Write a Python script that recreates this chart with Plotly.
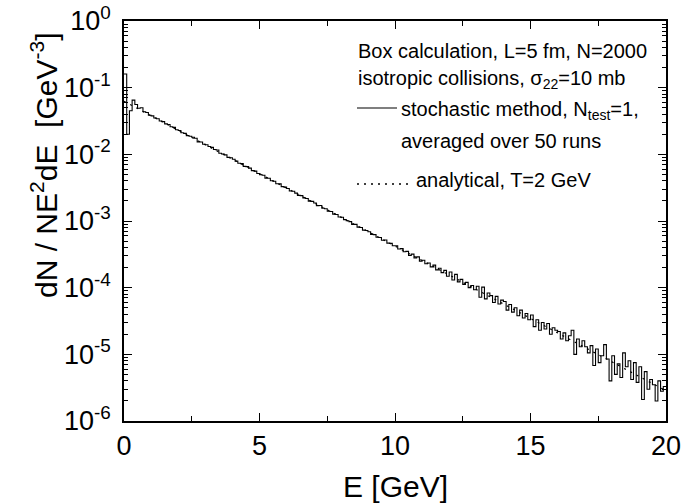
import numpy as np
import plotly.graph_objects as go

# Energy binning of the stochastic histogram (GeV)
bin_width = 0.1
e_min, e_max = 0.0, 20.0

# dN/(N E^2 dE) per 0.1 GeV bin, stochastic method (N_test=1, 50 runs)
stochastic = [
    0.160, 0.0200, 0.0450, 0.0650, 0.0560, 0.0490, 0.0500, 0.0435, 0.0425, 0.0385,
    0.0378, 0.0350, 0.0342, 0.0316, 0.0310, 0.0286, 0.0280, 0.0259, 0.0254, 0.0234,
    0.0228, 0.0211, 0.0206, 0.0191, 0.0187, 0.0180, 0.0174, 0.0154, 0.0153, 0.0142,
    0.0139, 0.0131, 0.0127, 0.0118, 0.0116, 0.0104, 0.0101, 0.0098, 0.0090, 0.0089,
    0.00845, 0.00790, 0.00735, 0.00725, 0.00660, 0.00655, 0.00620, 0.00570, 0.00560, 0.00515,
    0.00495, 0.00485, 0.00440, 0.00438, 0.00402, 0.00395, 0.00362, 0.00360, 0.00328, 0.00322,
    0.00308, 0.00282, 0.00280, 0.00262, 0.00242, 0.00240, 0.00222, 0.00218, 0.00199, 0.00197,
    0.00186, 0.00170, 0.00171, 0.00155, 0.00153, 0.00140, 0.00139, 0.00127, 0.00125, 0.00115,
    0.00114, 0.00105, 0.00101, 0.00098, 0.00089, 0.00089, 0.00081, 0.00080, 0.00073, 0.00072,
    0.000690, 0.000630, 0.000625, 0.000570, 0.000565, 0.000515, 0.000520, 0.000465, 0.000462, 0.000425,
    0.000425, 0.000380, 0.000385, 0.000345, 0.000350, 0.000305, 0.000318, 0.000280, 0.000290, 0.000250,
    0.000258, 0.000228, 0.000235, 0.000205, 0.000218, 0.000185, 0.000196, 0.000168, 0.000182, 0.000148,
    0.000172, 0.000130, 0.000158, 0.000122, 0.000133, 0.000112, 0.000120, 0.000100, 0.000108, 0.000093,
    1.05e-4, 7.2e-5, 1.02e-4, 6.8e-5, 8.3e-5, 7.6e-5, 6.0e-5, 7.4e-5, 5.7e-5, 6.5e-5,
    6.2e-5, 4.6e-5, 5.6e-5, 4.3e-5, 5.0e-5, 3.8e-5, 4.6e-5, 3.5e-5, 4.1e-5, 3.3e-5,
    3.9e-5, 2.6e-5, 3.3e-5, 2.3e-5, 3.0e-5, 2.4e-5, 2.9e-5, 2.0e-5, 2.5e-5, 2.3e-5,
    2.2e-5, 1.7e-5, 2.1e-5, 1.6e-5, 1.9e-5, 2.3e-5, 1.0e-5, 1.7e-5, 1.3e-5, 1.6e-5,
    1.3e-5, 1.05e-5, 1.35e-5, 6.8e-6, 1.2e-5, 7.5e-6, 9.5e-6, 1.4e-5, 8.5e-6, 4.0e-6,
    9.5e-6, 5.0e-6, 7.2e-6, 4.5e-6, 1.05e-5, 6.5e-6, 8.0e-6, 4.2e-6, 7.5e-6, 3.8e-6,
    6.5e-6, 2.1e-6, 5.5e-6, 3.0e-6, 4.2e-6, 3.5e-6, 2.0e-6, 4.0e-6, 2.8e-6, 3.3e-6,
]

# Analytical thermal spectrum, T = 2 GeV (straight line on the log scale)
analytic_E = [0.0, 20.0]
analytic_y = [0.0625, 2.84e-6]

# Axis ticks
x_major = [0, 5, 10, 15, 20]
x_minor = [2.5, 7.5, 12.5, 17.5]
y_decades = [-6, -5, -4, -3, -2, -1, 0]

FONT = "Liberation Sans, Arial, Helvetica, sans-serif"
DOTS = "2px,5px"

edges = np.round(np.arange(len(stochastic) + 1) * bin_width + e_min, 6)
step_y = list(stochastic) + [stochastic[-1]]

fig = go.Figure()
fig.add_trace(go.Scatter(
    x=analytic_E, y=analytic_y, mode="lines",
    line=dict(color="black", width=1.2, dash=DOTS),
    showlegend=False, hoverinfo="skip",
))
fig.add_trace(go.Scatter(
    x=edges, y=step_y, mode="lines", line_shape="hv",
    line=dict(color="black", width=1.1),
    showlegend=False,
))

# Plot area geometry in pixels
W, H = 682, 504
L, R, T, B = 124, 16, 21, 83
PW, PH = W - L - R, H - T - B


def px(x, y):
    """Convert page pixels to paper coordinates."""
    return (x - L) / PW, (H - B - y) / PH


axis_common = dict(
    showline=True, linecolor="black", linewidth=1.5, mirror="allticks",
    ticks="inside", ticklen=8, tickwidth=1.2, tickcolor="black",
    showgrid=False, zeroline=False, automargin=False,
    tickfont=dict(family=FONT, size=27, color="black"),
)

fig.update_xaxes(
    range=[e_min, e_max], tickmode="array", tickvals=x_major,
    ticktext=[str(v) for v in x_major],
    minor=dict(tickmode="array", tickvals=x_minor, ticks="inside",
               ticklen=5, tickwidth=1.2, tickcolor="black", showgrid=False),
    **axis_common,
)

y_minor = [m * 10.0 ** d for d in y_decades[:-1] for m in range(2, 10)]
fig.update_yaxes(
    type="log", range=[-6, 0], tickmode="array",
    tickvals=[10.0 ** d for d in y_decades],
    ticktext=[f"10<sup>{d}</sup>" for d in y_decades],
    ticklabelstandoff=6,
    minor=dict(tickmode="array", tickvals=y_minor, ticks="inside",
               ticklen=4, tickwidth=1, tickcolor="black", showgrid=False),
    **axis_common,
)

annotations = []
# Axis titles
xt, yt = px(395, 486)
annotations.append(dict(text="E [GeV]", x=xt, y=yt, xref="paper", yref="paper",
                        showarrow=False, xanchor="center", yanchor="middle",
                        font=dict(family=FONT, size=30, color="black")))
xt, yt = px(44, 166)
annotations.append(dict(text="dN / NE<sup>2</sup>dE \u00a0[GeV<sup>-3</sup>]",
                        x=xt, y=yt, xref="paper", yref="paper", textangle=-90,
                        showarrow=False, xanchor="center", yanchor="middle",
                        font=dict(family=FONT, size=30, color="black")))

# Legend block
legend_lines = [
    (356, 51, "Box calculation, L=5 fm, N=2000"),
    (356, 79, "isotropic collisions, \u03c3<sub>22</sub>=10 mb"),
    (399, 110, "stochastic method, N<sub>test</sub>=1,"),
    (399, 141, "averaged over 50 runs"),
    (414, 180, "analytical, T=2 GeV"),
]
for x0, y0, txt in legend_lines:
    xa, ya = px(x0, y0)
    annotations.append(dict(text=txt, x=xa, y=ya, xref="paper", yref="paper",
                            showarrow=False, xanchor="left", yanchor="middle",
                            font=dict(family=FONT, size=20, color="black")))

shapes = []
xa0, ya0 = px(357, 108)
xa1, _ = px(397, 108)
shapes.append(dict(type="line", xref="paper", yref="paper", x0=xa0, x1=xa1,
                   y0=ya0, y1=ya0, line=dict(color="black", width=1.1)))
xb0, yb0 = px(357, 184)
xb1, _ = px(410, 184)
shapes.append(dict(type="line", xref="paper", yref="paper", x0=xb0, x1=xb1,
                   y0=yb0, y1=yb0, line=dict(color="black", width=1.4, dash=DOTS)))

fig.update_layout(
    width=W, height=H,
    margin=dict(l=L, r=R, t=T, b=B, autoexpand=False),
    paper_bgcolor="white", plot_bgcolor="white",
    font=dict(family=FONT, color="black"),
    annotations=annotations, shapes=shapes,
    showlegend=False,
)

fig.write_html("out.html")
